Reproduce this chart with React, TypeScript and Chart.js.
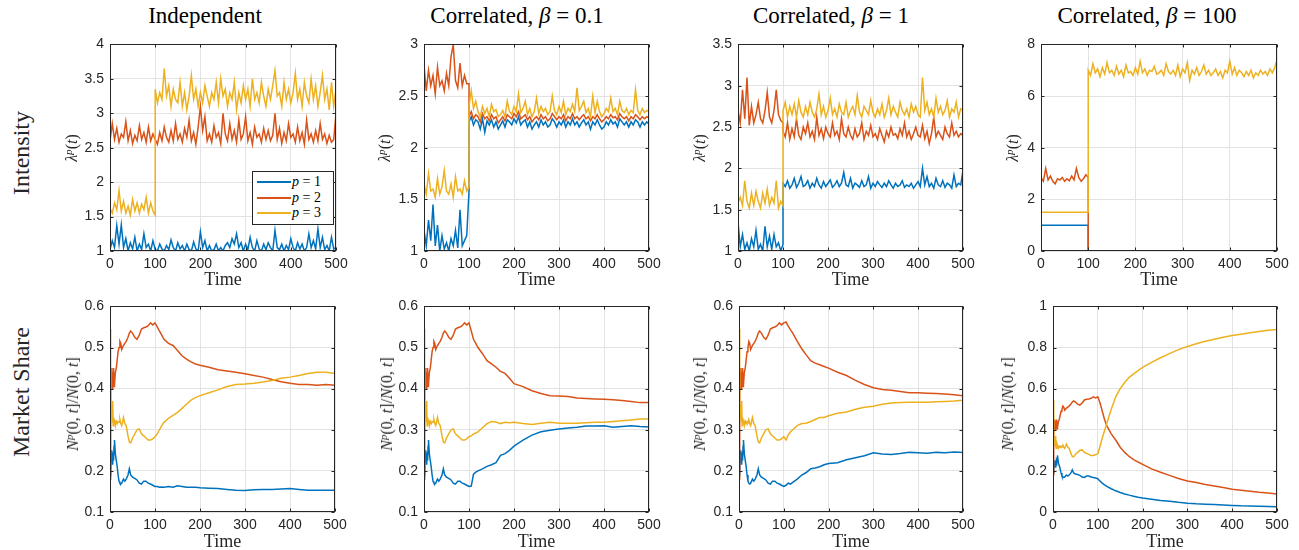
import React, { useEffect, useRef } from 'react';
import { Chart, registerables } from 'chart.js';

Chart.register(...registerables);

// ---------- colours / styles ----------
const COLORS = ['#0072BD', '#D95319', '#EDB120'];
const GRID = '#e3e3e3';
const AXIS = '#262626';
const SERIES_NAMES = ['p = 1', 'p = 2', 'p = 3'];

// ---------- time grids ----------
const T_PRE: number[] = [];
for (let t = 0; t <= 100; t += 5) T_PRE.push(t);
const T_POST: number[] = [];
for (let t = 100; t <= 500; t += 5) T_POST.push(t);
const T_EDGE_PRE = [0, 100];
const T_EDGE_POST = [100, 500];

const T_SHARE_EARLY = [0, 1, 2, 3, 4, 5, 6, 7, 8, 9, 10, 12, 14, 16, 18, 20, 22, 24, 26, 28, 30, 33, 36, 40, 43, 46, 50, 55, 60, 65, 70, 75, 80, 85, 90, 95, 100];
const T_SHARE_LATE = [105, 110, 115, 120, 130, 140, 150, 160, 170, 180, 190, 200, 220, 240, 260, 280, 300, 320, 340, 360, 380, 400, 420, 440, 460, 480, 500];

// ---------- Intensity: Independent ----------
const IND_P1_PRE = [1.02, 1.15, 1.05, 1.37, 1.1, 1.38, 1.05, 1.18, 1.0, 1.12, 1.03, 1.2, 1.0, 1.1, 1.02, 1.25, 1.05, 1.1, 1.0, 1.15, 1.02];
const IND_P1_POST = [
  1.02, 1.0, 1.1, 1.03, 1.0, 1.08, 1.02, 1.16, 1.05, 1.0,
  1.12, 1.03, 1.08, 1.0, 1.1, 1.02, 1.0, 1.13, 1.03, 1.0,
  1.28, 1.05, 1.15, 1.0, 1.08, 1.0, 1.02, 1.1, 1.0, 1.05,
  1.0, 1.08, 1.12, 1.05, 1.18, 1.1, 1.25, 1.05, 1.12, 1.0,
  1.1, 1.02, 1.2, 1.05, 1.0, 1.15, 1.03, 1.0, 1.1, 1.02,
  1.12, 1.05, 1.0, 1.3, 1.05, 1.02, 1.1, 1.0, 1.08, 1.02,
  1.18, 1.05, 1.0, 1.12, 1.03, 1.1, 1.0, 1.05, 1.25, 1.05,
  1.15, 1.03, 1.32, 1.05, 1.2, 1.02, 1.08, 1.0, 1.2, 1.03,
  1.05];
const IND_P2_PRE = [2.6, 2.85, 2.62, 2.78, 2.58, 2.7, 2.65, 2.88, 2.6, 2.75, 2.56, 2.68, 2.6, 2.82, 2.62, 2.72, 2.58, 2.8, 2.6, 2.7, 2.62];
const IND_P2_POST = [
  2.62, 2.55, 2.72, 2.6, 2.8, 2.65, 2.58, 2.75, 2.6, 2.85,
  2.62, 2.7, 2.58, 2.78, 2.65, 2.9, 2.6, 2.72, 2.55, 2.8,
  3.1, 2.75, 2.95, 2.6, 2.7, 2.58, 2.82, 2.65, 2.72, 2.56,
  3.0, 2.7, 2.6, 2.85, 2.62, 2.75, 2.58, 2.9, 2.62, 2.7,
  2.95, 2.6, 2.72, 2.55, 2.8, 2.65, 2.7, 2.58, 2.78, 2.62,
  2.75, 2.6, 2.68, 3.0, 2.62, 2.78, 2.56, 2.72, 2.6, 2.85,
  2.65, 2.7, 2.58, 2.8, 2.6, 2.72, 2.55, 2.9, 2.62, 2.7,
  2.58, 2.75, 2.6, 2.85, 2.62, 2.7, 2.56, 2.68, 2.58, 2.62,
  3.0];
const IND_P3_PRE = [1.62, 1.55, 1.7, 1.6, 1.88, 1.58, 1.72, 1.55, 1.65, 1.52, 1.75, 1.58, 1.7, 1.55, 1.68, 1.6, 1.78, 1.55, 1.7, 1.58, 1.52];
const IND_P3_POST = [
  3.35, 3.15, 3.3, 3.2, 3.65, 3.25, 3.4, 3.1, 3.35, 3.2,
  3.15, 3.45, 3.1, 3.3, 3.05, 3.25, 3.55, 3.2, 3.35, 3.1,
  3.3, 3.15, 3.4, 3.25, 3.1, 3.3, 3.2, 3.45, 3.15, 3.5,
  3.25, 3.35, 3.1, 3.3, 3.2, 3.45, 3.05, 3.3, 3.15, 3.4,
  3.2, 3.35, 3.1, 3.5, 3.2, 3.3, 3.15, 3.45, 3.25, 3.1,
  3.35, 3.2, 3.4, 3.62, 3.25, 3.3, 3.1, 3.45, 3.2, 3.35,
  3.15, 3.3, 3.58, 3.2, 3.35, 3.1, 3.45, 3.25, 3.15, 3.5,
  3.2, 3.4, 3.1, 3.3, 3.55, 3.2, 3.35, 3.05, 3.45, 3.1,
  3.35];

// ---------- Intensity: Correlated beta = 0.1 ----------
const B01_P1_PRE = [1.2, 1.05, 1.3, 1.1, 1.45, 1.05, 1.25, 1.0, 1.15, 1.02, 1.08, 1.0, 1.12, 1.05, 1.2, 1.03, 1.4, 1.05, 1.1, 1.15, 1.58];
const B01_P1_POST = [
  2.25, 2.3, 2.22, 2.27, 2.25, 2.18, 2.28, 2.15, 2.26, 2.22,
  2.27, 2.2, 2.25, 2.18, 2.22, 2.26, 2.2, 2.27, 2.25, 2.22,
  2.28, 2.24, 2.3, 2.22, 2.25, 2.27, 2.2, 2.25, 2.18, 2.22,
  2.25, 2.2, 2.27, 2.22, 2.25, 2.2, 2.22, 2.28, 2.25, 2.2,
  2.25, 2.22, 2.27, 2.2, 2.25, 2.22, 2.28, 2.22, 2.25, 2.2,
  2.24, 2.27, 2.22, 2.25, 2.18, 2.25, 2.22, 2.27, 2.22, 2.18,
  2.2, 2.25, 2.22, 2.27, 2.23, 2.25, 2.2, 2.28, 2.25, 2.22,
  2.25, 2.2, 2.25, 2.22, 2.27, 2.25, 2.2, 2.25, 2.22, 2.25,
  2.23];
const B01_P2_PRE = [2.8, 2.55, 2.75, 2.6, 2.7, 2.52, 2.78, 2.6, 2.65, 2.55, 2.72, 2.6, 2.88, 3.0, 2.65, 2.58, 2.82, 2.6, 2.7, 2.62, 2.62];
const B01_P2_POST = [
  2.3, 2.35, 2.28, 2.32, 2.3, 2.25, 2.33, 2.28, 2.3, 2.26,
  2.32, 2.28, 2.3, 2.24, 2.27, 2.3, 2.26, 2.32, 2.3, 2.28,
  2.33, 2.3, 2.35, 2.28, 2.3, 2.32, 2.27, 2.3, 2.25, 2.28,
  2.3, 2.27, 2.32, 2.28, 2.3, 2.26, 2.28, 2.33, 2.3, 2.27,
  2.3, 2.28, 2.32, 2.26, 2.3, 2.28, 2.33, 2.28, 2.3, 2.27,
  2.3, 2.32, 2.28, 2.3, 2.26, 2.3, 2.28, 2.32, 2.28, 2.25,
  2.27, 2.3, 2.28, 2.32, 2.29, 2.3, 2.27, 2.33, 2.3, 2.28,
  2.3, 2.26, 2.3, 2.28, 2.32, 2.3, 2.27, 2.3, 2.28, 2.3,
  2.29];
const B01_P3_PRE = [1.65, 1.55, 1.75, 1.58, 1.6, 1.52, 1.7, 1.55, 1.62, 1.78, 1.58, 1.55, 1.65, 1.52, 1.72, 1.58, 1.6, 1.55, 1.68, 1.58, 1.62];
const B01_P3_POST = [
  2.4, 2.55, 2.38, 2.45, 2.35, 2.3, 2.4, 2.33, 2.38, 2.3,
  2.42, 2.35, 2.37, 2.3, 2.32, 2.36, 2.3, 2.45, 2.35, 2.32,
  2.4, 2.35, 2.52, 2.34, 2.38, 2.45, 2.32, 2.38, 2.3, 2.35,
  2.48, 2.33, 2.4, 2.35, 2.38, 2.32, 2.35, 2.5, 2.36, 2.32,
  2.4, 2.34, 2.45, 2.32, 2.38, 2.35, 2.42, 2.35, 2.58, 2.36,
  2.4, 2.45, 2.34, 2.38, 2.3, 2.5, 2.34, 2.45, 2.35, 2.3,
  2.33, 2.38, 2.35, 2.48, 2.35, 2.38, 2.32, 2.45, 2.36, 2.34,
  2.38, 2.32, 2.36, 2.34, 2.56, 2.36, 2.32, 2.38, 2.34, 2.36,
  2.35];

// ---------- Intensity: Correlated beta = 1 ----------
const B1_P1_PRE = [1.35, 1.05, 1.2, 1.02, 1.1, 1.0, 1.15, 1.05, 1.25, 1.02, 1.08, 1.0, 1.3, 1.05, 1.18, 1.02, 1.2, 1.05, 1.1, 1.0, 1.08];
const B1_P1_POST = [
  1.82, 1.78, 1.85, 1.76, 1.8, 1.88, 1.77, 1.82, 1.9, 1.78,
  1.8, 1.85, 1.76, 1.82, 1.78, 1.88, 1.8, 1.76, 1.84, 1.78,
  1.82, 1.86, 1.77, 1.8, 1.85, 1.78, 1.82, 1.95, 1.8, 1.78,
  1.88, 1.76, 1.82, 1.8, 1.77, 1.85, 1.78, 1.8, 1.9, 1.76,
  1.82, 1.78, 1.84, 1.8, 1.77, 1.82, 1.78, 1.85, 1.8, 1.76,
  1.82, 1.78, 1.8, 1.85, 1.77, 1.8, 1.78, 1.82, 1.76, 1.8,
  1.84, 1.78, 2.0, 1.8, 1.9, 1.78, 1.82, 1.76, 1.88, 1.8,
  1.78, 1.85, 1.77, 1.82, 1.8, 1.76, 1.92, 1.78, 1.82, 1.8,
  1.98];
const B1_P2_PRE = [2.7, 2.55, 2.95, 2.6, 3.1, 2.52, 2.75, 2.55, 2.65, 2.8, 2.6, 2.55, 2.7, 2.92, 2.62, 2.55, 2.7, 2.95, 2.65, 2.58, 2.55];
const B1_P2_POST = [
  2.45, 2.38, 2.55, 2.35, 2.48, 2.38, 2.6, 2.4, 2.35, 2.5,
  2.42, 2.55, 2.38, 2.45, 2.35, 2.62, 2.4, 2.48, 2.36, 2.5,
  2.42, 2.38, 2.55, 2.4, 2.45, 2.35, 2.6, 2.42, 2.38, 2.5,
  2.4, 2.35, 2.48, 2.38, 2.42, 2.55, 2.35, 2.45, 2.4, 2.52,
  2.38, 2.42, 2.35, 2.48, 2.4, 2.32, 2.45, 2.38, 2.5, 2.4,
  2.42, 2.36, 2.48, 2.4, 2.55, 2.38, 2.45, 2.35, 2.42, 2.5,
  2.4, 2.38, 2.52, 2.36, 2.45, 2.3, 2.42, 2.62, 2.38, 2.45,
  2.4, 2.35, 2.5, 2.42, 2.38, 2.55, 2.4, 2.45, 2.38, 2.42,
  2.4];
const B1_P3_PRE = [1.58, 1.65, 1.55, 1.85, 1.6, 1.52, 1.7, 1.55, 1.72, 1.6, 1.52, 1.7, 1.58, 1.75, 1.55, 1.65, 1.58, 1.85, 1.52, 1.6, 1.55];
const B1_P3_POST = [
  2.7, 2.8, 2.62, 2.75, 2.65, 2.78, 2.62, 2.82, 2.68, 2.62,
  2.75, 2.65, 2.8, 2.68, 2.62, 2.72, 2.9, 2.65, 2.75, 2.62,
  2.7, 2.85, 2.65, 2.72, 2.62, 2.78, 2.68, 2.65, 2.8, 2.62,
  2.7, 2.75, 2.65, 2.88, 2.68, 2.62, 2.75, 2.7, 2.65, 2.82,
  2.68, 2.62, 2.72, 2.65, 2.78, 2.62, 2.7, 2.85, 2.65, 2.75,
  2.68, 2.62, 2.8, 2.7, 2.65, 2.72, 2.62, 2.78, 2.68, 2.75,
  2.65, 2.62, 3.1, 2.7, 2.8, 2.65, 2.72, 2.62, 2.85, 2.68,
  2.75, 2.65, 2.7, 2.82, 2.62, 2.72, 2.68, 2.8, 2.62, 2.72,
  2.7];

// ---------- Intensity: Correlated beta = 100 ----------
const B100_P1_PRE = [1.0, 1.0];
const B100_P1_POST = [0, 0];
const B100_P2_PRE = [2.85, 2.7, 3.2, 2.75, 2.9, 2.7, 2.6, 2.8, 2.75, 2.85, 2.7, 2.8, 2.72, 2.9, 2.75, 3.2, 2.85, 2.7, 2.8, 2.95, 2.85];
const B100_P2_POST = [0, 0];
const B100_P3_PRE = [1.5, 1.5];
const B100_P3_POST = [
  7.0, 6.8, 7.25, 6.9, 7.05, 6.75, 7.1, 6.85, 7.3, 6.9,
  7.0, 6.8, 7.15, 6.85, 7.0, 6.75, 7.2, 6.9, 6.95, 6.8,
  7.1, 6.85, 7.35, 6.9, 7.05, 6.8, 7.0, 6.95, 7.15, 6.85,
  6.9, 7.0, 6.8, 7.25, 6.95, 6.85, 7.0, 6.8, 7.2, 6.75,
  7.05, 6.9, 7.3, 6.6, 7.0, 6.85, 7.1, 6.8, 6.95, 7.2,
  6.85, 7.0, 6.8, 6.9, 7.05, 6.8, 6.95, 6.7, 7.0, 6.9,
  7.35, 6.85, 7.1, 6.8, 7.0, 6.9, 6.75, 6.95, 6.8, 7.0,
  6.7, 6.9, 6.8, 7.0, 6.85, 6.95, 6.8, 7.05, 6.9, 7.1,
  7.4];

// ---------- Market share: shared first 100 time units ----------
const SHARE_P1_EARLY = [0.19, 0.22, 0.20, 0.25, 0.22, 0.245, 0.215, 0.24, 0.225, 0.26, 0.275, 0.24, 0.225, 0.21, 0.19, 0.175, 0.17, 0.168, 0.17, 0.175, 0.18, 0.175, 0.18, 0.19, 0.205, 0.19, 0.185, 0.182, 0.178, 0.17, 0.168, 0.175, 0.175, 0.17, 0.168, 0.165, 0.162];
const SHARE_P2_EARLY = [0.18, 0.30, 0.44, 0.41, 0.45, 0.40, 0.44, 0.41, 0.45, 0.405, 0.41, 0.44, 0.45, 0.47, 0.49, 0.50, 0.515, 0.51, 0.495, 0.50, 0.505, 0.51, 0.515, 0.525, 0.535, 0.54, 0.535, 0.525, 0.52, 0.53, 0.545, 0.548, 0.55, 0.553, 0.56, 0.555, 0.56];
const SHARE_P3_EARLY = [0.545, 0.40, 0.37, 0.33, 0.36, 0.32, 0.37, 0.31, 0.33, 0.315, 0.325, 0.31, 0.32, 0.315, 0.32, 0.318, 0.325, 0.315, 0.31, 0.32, 0.33, 0.315, 0.31, 0.285, 0.27, 0.268, 0.28, 0.29, 0.30, 0.302, 0.29, 0.285, 0.28, 0.275, 0.275, 0.278, 0.283];

// ---------- Market share after t = 100 ----------
const IND_S1 = [0.162, 0.16, 0.161, 0.16, 0.162, 0.16, 0.164, 0.162, 0.16, 0.16, 0.16, 0.159, 0.158, 0.157, 0.155, 0.153, 0.152, 0.154, 0.155, 0.155, 0.156, 0.157, 0.155, 0.153, 0.153, 0.153, 0.153];
const IND_S2 = [0.55, 0.54, 0.53, 0.52, 0.51, 0.505, 0.493, 0.48, 0.472, 0.465, 0.46, 0.457, 0.452, 0.446, 0.443, 0.44, 0.436, 0.432, 0.428, 0.422, 0.417, 0.413, 0.41, 0.41, 0.408, 0.41, 0.408];
const IND_S3 = [0.29, 0.30, 0.31, 0.318, 0.328, 0.335, 0.342, 0.352, 0.362, 0.372, 0.378, 0.383, 0.39, 0.397, 0.405, 0.41, 0.411, 0.413, 0.416, 0.42, 0.425, 0.428, 0.432, 0.437, 0.44, 0.44, 0.437];

const B01_S1 = [0.163, 0.192, 0.197, 0.20, 0.205, 0.211, 0.215, 0.22, 0.238, 0.242, 0.25, 0.26, 0.275, 0.287, 0.295, 0.299, 0.302, 0.304, 0.306, 0.309, 0.309, 0.31, 0.306, 0.308, 0.31, 0.308, 0.307];
const B01_S2 = [0.54, 0.52, 0.51, 0.50, 0.485, 0.468, 0.46, 0.452, 0.442, 0.437, 0.425, 0.412, 0.405, 0.395, 0.388, 0.383, 0.382, 0.381, 0.377, 0.376, 0.375, 0.374, 0.373, 0.371, 0.369, 0.366, 0.366];
const B01_S3 = [0.285, 0.29, 0.292, 0.295, 0.305, 0.315, 0.32, 0.319, 0.315, 0.318, 0.317, 0.318, 0.315, 0.313, 0.316, 0.318, 0.316, 0.316, 0.316, 0.317, 0.318, 0.318, 0.32, 0.322, 0.324, 0.326, 0.326];

const B1_S1 = [0.165, 0.17, 0.168, 0.172, 0.18, 0.19, 0.196, 0.205, 0.207, 0.21, 0.215, 0.218, 0.22, 0.227, 0.232, 0.237, 0.244, 0.241, 0.24, 0.242, 0.245, 0.244, 0.243, 0.245, 0.244, 0.246, 0.245];
const B1_S2 = [0.562, 0.552, 0.543, 0.535, 0.515, 0.497, 0.482, 0.468, 0.462, 0.458, 0.454, 0.45, 0.44, 0.432, 0.42, 0.41, 0.402, 0.398, 0.396, 0.393, 0.39, 0.39, 0.389, 0.388, 0.387, 0.385, 0.383];
const B1_S3 = [0.275, 0.288, 0.295, 0.30, 0.31, 0.315, 0.316, 0.32, 0.325, 0.33, 0.33, 0.334, 0.34, 0.343, 0.35, 0.355, 0.357, 0.362, 0.365, 0.366, 0.367, 0.367, 0.367, 0.368, 0.369, 0.37, 0.372];

const B100_S1 = [0.15, 0.14, 0.132, 0.125, 0.113, 0.103, 0.095, 0.088, 0.082, 0.077, 0.072, 0.068, 0.062, 0.056, 0.052, 0.047, 0.043, 0.04, 0.038, 0.036, 0.034, 0.032, 0.03, 0.029, 0.028, 0.027, 0.026];
const B100_S2 = [0.53, 0.49, 0.45, 0.42, 0.38, 0.35, 0.315, 0.29, 0.27, 0.255, 0.243, 0.232, 0.21, 0.193, 0.178, 0.163, 0.151, 0.143, 0.134, 0.127, 0.119, 0.111, 0.106, 0.101, 0.096, 0.092, 0.088];
const B100_S3 = [0.32, 0.36, 0.395, 0.43, 0.50, 0.56, 0.60, 0.63, 0.655, 0.672, 0.688, 0.703, 0.728, 0.75, 0.77, 0.79, 0.805, 0.818, 0.83, 0.84, 0.85, 0.858, 0.865, 0.872, 0.878, 0.884, 0.888];

// ---------- axis ticks ----------
const X_TICK_STEP = 100;
const Y_RANGES = [
  { min: 1, max: 4, step: 0.5 },
  { min: 1, max: 3, step: 0.5 },
  { min: 1, max: 3.5, step: 0.5 },
  { min: 0, max: 8, step: 2 },
  { min: 0.1, max: 0.6, step: 0.1 },
  { min: 0.1, max: 0.6, step: 0.1 },
  { min: 0.1, max: 0.6, step: 0.1 },
  { min: 0, max: 1, step: 0.2 },
];

// ---------- helpers ----------
type Pt = { x: number; y: number };
function zip(ts: number[], vs: number[]): Pt[] {
  const n = Math.min(ts.length, vs.length);
  const out: Pt[] = [];
  for (let i = 0; i < n; i++) out.push({ x: ts[i], y: vs[i] });
  return out;
}
function joined(t1: number[], v1: number[], t2: number[], v2: number[]): Pt[] {
  return zip(t1, v1).concat(zip(t2, v2));
}
function fmtTick(v: number | string): string {
  return String(parseFloat(Number(v).toFixed(3)));
}

const INTENSITY_SERIES: Pt[][][] = [
  [joined(T_PRE, IND_P1_PRE, T_POST, IND_P1_POST), joined(T_PRE, IND_P2_PRE, T_POST, IND_P2_POST), joined(T_PRE, IND_P3_PRE, T_POST, IND_P3_POST)],
  [joined(T_PRE, B01_P1_PRE, T_POST, B01_P1_POST), joined(T_PRE, B01_P2_PRE, T_POST, B01_P2_POST), joined(T_PRE, B01_P3_PRE, T_POST, B01_P3_POST)],
  [joined(T_PRE, B1_P1_PRE, T_POST, B1_P1_POST), joined(T_PRE, B1_P2_PRE, T_POST, B1_P2_POST), joined(T_PRE, B1_P3_PRE, T_POST, B1_P3_POST)],
  [joined(T_EDGE_PRE, B100_P1_PRE, T_EDGE_POST, B100_P1_POST), joined(T_PRE, B100_P2_PRE, T_EDGE_POST, B100_P2_POST), joined(T_EDGE_PRE, B100_P3_PRE, T_POST, B100_P3_POST)],
];
const EARLY = [SHARE_P1_EARLY, SHARE_P2_EARLY, SHARE_P3_EARLY];
const LATE = [
  [IND_S1, IND_S2, IND_S3],
  [B01_S1, B01_S2, B01_S3],
  [B1_S1, B1_S2, B1_S3],
  [B100_S1, B100_S2, B100_S3],
];
const SHARE_SERIES: Pt[][][] = LATE.map((panel) => panel.map((late, i) => joined(T_SHARE_EARLY, EARLY[i], T_SHARE_LATE, late)));
const ALL_SERIES = INTENSITY_SERIES.concat(SHARE_SERIES);

// ---------- layout (plot areas in page pixels) ----------
const PLOTS = [
  { l: 110, r: 336, t: 40, b: 251 },
  { l: 424, r: 649, t: 40, b: 251 },
  { l: 738, r: 963, t: 40, b: 251 },
  { l: 1041, r: 1277, t: 40, b: 251 },
  { l: 110, r: 335, t: 302, b: 512 },
  { l: 424, r: 649, t: 302, b: 512 },
  { l: 739, r: 963, t: 302, b: 512 },
  { l: 1053, r: 1277, t: 302, b: 512 },
];
const YW = 50;
const XH = 30;
const PADT = 10;
const PADR = 20;
const TICK_FONT = { family: '"Liberation Sans", Arial, Helvetica, sans-serif', size: 14 };

const boxPlugin = {
  id: 'matlabBox',
  afterDraw(chart: any) {
    const { ctx, chartArea: a, scales } = chart;
    ctx.save();
    ctx.strokeStyle = AXIS;
    ctx.lineWidth = 1;
    const L = Math.round(a.left) + 0.5;
    const R = Math.round(a.right) - 0.5;
    const T = Math.round(a.top) + 0.5;
    const B = Math.round(a.bottom) - 0.5;
    ctx.strokeRect(L, T, R - L, B - T);
    const tl = 3;
    ctx.beginPath();
    scales.x.ticks.forEach((tk: any) => {
      const px = Math.round(scales.x.getPixelForValue(tk.value)) + 0.5;
      ctx.moveTo(px, B); ctx.lineTo(px, B - tl);
      ctx.moveTo(px, T); ctx.lineTo(px, T + tl);
    });
    scales.y.ticks.forEach((tk: any) => {
      const py = Math.round(scales.y.getPixelForValue(tk.value)) + 0.5;
      ctx.moveTo(L, py); ctx.lineTo(L + tl, py);
      ctx.moveTo(R, py); ctx.lineTo(R - tl, py);
    });
    ctx.stroke();
    ctx.restore();
  },
};

function Panel({ idx }: { idx: number }) {
  const ref = useRef<HTMLCanvasElement>(null);
  const p = PLOTS[idx];
  const w = p.r - p.l + YW + PADR;
  const h = p.b - p.t + PADT + XH;
  useEffect(() => {
    const yr = Y_RANGES[idx];
    const chart = new Chart(ref.current as HTMLCanvasElement, {
      type: 'line',
      data: {
        datasets: ALL_SERIES[idx].map((pts, i) => ({
          label: SERIES_NAMES[i],
          data: pts,
          borderColor: COLORS[i],
          backgroundColor: COLORS[i],
          borderWidth: 1.5,
          pointRadius: 0,
          tension: 0,
          fill: false,
          order: 3 - i,
        })),
      },
      options: {
        animation: false,
        responsive: false,
        maintainAspectRatio: false,
        layout: { padding: { left: 0, top: PADT, right: PADR, bottom: 0 } },
        plugins: { legend: { display: false }, tooltip: { enabled: false } },
        scales: {
          x: {
            type: 'linear',
            min: 0,
            max: 500,
            ticks: { stepSize: X_TICK_STEP, font: TICK_FONT, color: AXIS, padding: 5, maxRotation: 0, callback: (v: any) => fmtTick(v) },
            grid: { color: GRID, drawTicks: false },
            border: { display: false },
            afterFit: (s: any) => { s.height = XH; },
          },
          y: {
            type: 'linear',
            min: yr.min,
            max: yr.max,
            ticks: { stepSize: yr.step, font: TICK_FONT, color: AXIS, padding: 6, callback: (v: any) => fmtTick(v) },
            grid: { color: GRID, drawTicks: false },
            border: { display: false },
            afterFit: (s: any) => { s.width = YW; },
          },
        },
      } as any,
      plugins: [boxPlugin],
    });
    return () => chart.destroy();
  }, [idx]);
  return (
    <canvas
      ref={ref}
      width={w}
      height={h}
      style={{ position: 'absolute', left: p.l - YW, top: p.t - PADT, width: w, height: h }}
    />
  );
}

const SERIF = '"Liberation Serif", "Times New Roman", Times, serif';

const TITLES = [
  { cx: 205, beta: '' },
  { cx: 517, beta: '0.1' },
  { cx: 831, beta: '1' },
  { cx: 1147, beta: '100' },
];
const YLAB_TOP_X = [72, 385, 700, 1013];
const YLAB_BOT_X = [73, 387, 700, 1008];

function Rot({ cx, cy, size, children }: { cx: number; cy: number; size: number; children: React.ReactNode }) {
  return (
    <div
      style={{
        position: 'absolute', left: cx, top: cy, transform: 'translate(-50%,-50%) rotate(-90deg)',
        whiteSpace: 'nowrap', fontFamily: SERIF, fontSize: size, lineHeight: 1, color: '#262626',
      }}
    >
      {children}
    </div>
  );
}

function Lambda() {
  return (
    <span>
      <i>λ</i><sup style={{ fontSize: '0.7em', verticalAlign: '0.45em', lineHeight: 0 }}><i>p</i></sup>(<i>t</i>)
    </span>
  );
}
function Share() {
  return (
    <span>
      <i>N</i><sup style={{ fontSize: '0.7em', verticalAlign: '0.45em', lineHeight: 0 }}><i>p</i></sup>(0, <i>t</i>]/<i>N</i>(0, <i>t</i>]
    </span>
  );
}

export default function App() {
  return (
    <div style={{ position: 'absolute', left: 0, top: 0, width: 1299, height: 550, background: '#fff', overflow: 'hidden' }}>
      {PLOTS.map((_, i) => <Panel key={i} idx={i} />)}
      {TITLES.map((t, i) => (
        <div key={'t' + i} style={{ position: 'absolute', left: t.cx, top: 4, transform: 'translateX(-50%)', whiteSpace: 'nowrap', fontFamily: SERIF, fontSize: 23, lineHeight: '23px', color: '#000' }}>
          {t.beta === '' ? 'Independent' : (<span>Correlated, <i>β</i> = {t.beta}</span>)}
        </div>
      ))}
      <Rot cx={21} cy={153} size={24}>Intensity</Rot>
      <Rot cx={21} cy={392} size={24}>Market Share</Rot>
      {YLAB_TOP_X.map((x, i) => <Rot key={'yl' + i} cx={x} cy={148} size={16}><Lambda /></Rot>)}
      {YLAB_BOT_X.map((x, i) => <Rot key={'yb' + i} cx={x} cy={404} size={16}><Share /></Rot>)}
      {PLOTS.map((p, i) => (
        <div key={'x' + i} style={{ position: 'absolute', left: (p.l + p.r) / 2, top: (i < 4 ? 279 : 541), transform: 'translate(-50%,-50%)', whiteSpace: 'nowrap', fontFamily: SERIF, fontSize: 18, lineHeight: 1, color: '#262626' }}>
          Time
        </div>
      ))}
      <div style={{ position: 'absolute', left: 252, top: 171, width: 80, height: 52, border: '1px solid #262626', background: '#fff', fontFamily: SERIF, fontSize: 14, color: '#000' }}>
        {SERIES_NAMES.map((name, i) => (
          <div key={'lg' + i} style={{ position: 'absolute', left: 0, top: [10, 26, 41][i], width: 80, height: 0 }}>
            <div style={{ position: 'absolute', left: 4, top: -1, width: 34, height: 2, background: COLORS[i] }} />
            <div style={{ position: 'absolute', left: 39, top: -8, lineHeight: '15px', whiteSpace: 'nowrap' }}>
              <i>p</i> = {name.slice(4)}
            </div>
          </div>
        ))}
      </div>
    </div>
  );
}
